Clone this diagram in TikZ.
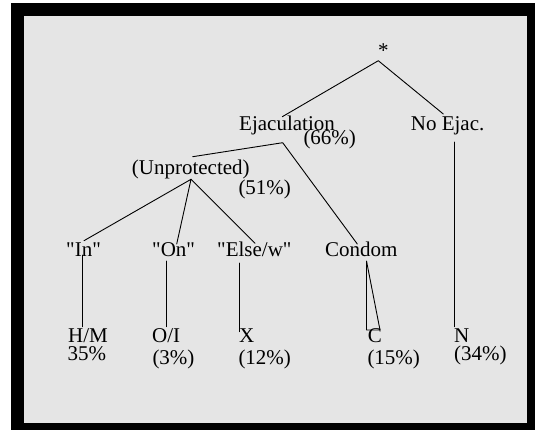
\documentclass[tikz,border=0pt]{standalone}
\usepackage{fontspec}
% plain typewriter-style double quotes are wanted, so no TeX quote mapping
\setmainfont{Liberation Serif}[Ligatures=TeXOff]
\definecolor{panel}{RGB}{229,229,229}
\tikzset{
  lbl/.style={inner sep=0pt, anchor=base west, font=\fontsize{21}{25}\selectfont},
  edge/.style={line width=0.9pt, line cap=round, line join=round}
}
\begin{document}
\begin{tikzpicture}[x=1pt,y=-1pt]
  \useasboundingbox (0,0) rectangle (535,430);
  % page, frame and panel
  \fill[white] (0,0) rectangle (535,430);
  \fill[black] (11,3) rectangle (535,430);
  \fill[panel] (24,16) rectangle (527,423);

  % labels
  \node[lbl, anchor=base] (root) at (383.3,58) {*};
  \node[lbl] (ejac) at (239,130.7) {Ejaculation};
  \node[lbl] (ejacp) at (303.3,145) {(66\%)};
  \node[lbl] (noej) at (410.7,130.7) {No Ejac.};
  \node[lbl] (unpr) at (131.7,175) {(Unprotected)};
  \node[lbl] (unprp) at (238.3,195) {(51\%)};
  \node[lbl] (in) at (66,256.7) {"In"};
  \node[lbl] (on) at (152,257) {"On"};
  \node[lbl] (else) at (217,257) {"Else/w"};
  \node[lbl] (condom) at (325,257) {Condom};
  \node[lbl] (hm) at (68,342.3) {H/M};
  \node[lbl] (hmp) at (67.4,360.5) {35\%};
  \node[lbl] (oi) at (152,342.3) {O/I};
  \node[lbl] (oip) at (152.3,364) {(3\%)};
  \node[lbl] (x) at (238.8,342.3) {X};
  \node[lbl] (xp) at (238.3,364) {(12\%)};
  \node[lbl] (c) at (367.7,342.3) {C};
  \node[lbl] (cp) at (367.3,364) {(15\%)};
  \node[lbl] (n) at (454,342.3) {N};
  \node[lbl] (np) at (454,360) {(34\%)};

  % branch end points
  \coordinate (rootB) at (378.3,60.7);
  \coordinate (ejacT) at (282.3,116.7);
  \coordinate (noejT) at (443.3,114);
  \coordinate (ejacB) at (282.7,142.7);
  \coordinate (unprT) at (192.7,156.7);
  \coordinate (unprB) at (191,179.3);
  \coordinate (inT) at (84,240.7);
  \coordinate (onT) at (176.7,244);
  \coordinate (elseT) at (255,243.3);
  \coordinate (condomT) at (357.3,244);
  \coordinate (inB) at (82,255);
  \coordinate (hmT) at (82,326.7);
  \coordinate (onB) at (166,261);
  \coordinate (oiT) at (166,326.7);
  \coordinate (elseB) at (239,263);
  \coordinate (xT) at (239,331.7);
  \coordinate (condomB) at (366.5,261);
  \coordinate (cL) at (366.5,330);
  \coordinate (cR) at (380,330);
  \coordinate (noejB) at (454.3,142);
  \coordinate (nT) at (454.3,326.7);

  % tree branches
  \draw[edge] (ejacT) -- (rootB) -- (noejT);
  \draw[edge] (unprT) -- (ejacB) -- (condomT);
  \draw[edge] (inT) -- (unprB) -- (onT);
  \draw[edge] (unprB) -- (elseT);
  \draw[edge] (inB) -- (hmT);
  \draw[edge] (onB) -- (oiT);
  \draw[edge] (elseB) -- (xT);
  \draw[edge] (condomB) -- (cL) -- (cR) -- cycle;
  \draw[edge] (noejB) -- (nT);
\end{tikzpicture}
\end{document}
